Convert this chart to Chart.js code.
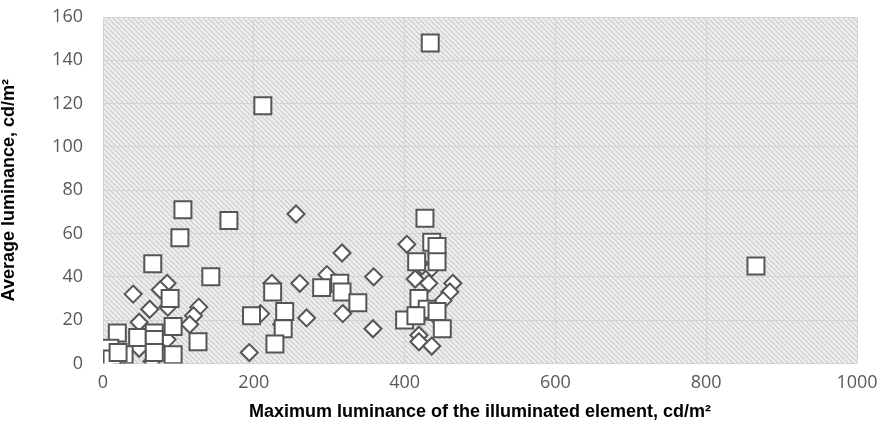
<!DOCTYPE html>
<html>
<head>
<meta charset="utf-8">
<script src="https://cdn.jsdelivr.net/npm/chart.js@4.4.1/dist/chart.umd.min.js"></script>
<style>
  html, body { margin: 0; padding: 0; background: #fff; }
  #wrap { width: 878px; height: 444px; }
</style>
</head>
<body>
<div id="wrap"><canvas id="scatterChart"></canvas></div>
<script>
// Data
const squareX = [434, 212, 866, 106, 102, 167, 66, 143, 427, 436, 443, 416, 443, 419, 400, 450, 430, 443, 415,
    225, 197, 241, 239, 228, 290, 314, 317, 338, 126, 19, 46, 68, 93, 89, 68, 93, 68, 3, 9, 2, 5, 28, 12, 20];
const squareY = [148, 119, 45, 71, 58, 66, 46, 40, 67, 56, 54, 47, 47, 30, 20, 16, 25, 24, 22,
    33, 22, 24, 16, 9, 35, 37, 33, 28, 10, 14, 12, 14, 17, 30, 11, 4, 5, 3, 7, 1, 0, 4, 2, 5];

const diamondX = [256, 317, 297, 261, 359, 224, 270, 318, 358, 237, 209, 194, 127, 120, 115, 85, 76, 40, 62, 86,
    48, 85, 48, 9, 25, 65, 403, 423, 436, 414, 432, 464, 460, 451, 415, 428, 438, 419, 419, 436];
const diamondY = [69, 51, 41, 37, 40, 37, 21, 23, 16, 18, 23, 5, 26, 22, 18, 37, 34, 32, 25, 26,
    19, 11, 7, 3, 3, 1, 55, 45, 44, 39, 37, 37, 33, 29, 24, 24, 23, 13, 10, 8];

const xTicks = [0, 200, 400, 600, 800, 1000];
const yTicks = [0, 20, 40, 60, 80, 100, 120, 140, 160];

const toPoints = (xs, ys) => xs.map((x, i) => ({ x: x, y: ys[i] }));

// Hatched plot background
function makeHatch() {
    const c = document.createElement('canvas');
    c.width = 5;
    c.height = 5;
    const g = c.getContext('2d');
    g.fillStyle = '#eeeeee';
    g.fillRect(0, 0, 5, 5);
    g.strokeStyle = '#cbcbcb';
    g.lineWidth = 1.2;
    for (const off of [-5, 0, 5]) {
        g.beginPath();
        g.moveTo(off, 0);
        g.lineTo(off + 5, 5);
        g.stroke();
    }
    return g.createPattern(c, 'repeat');
}

const hatchPlugin = {
    id: 'hatch',
    beforeDraw(chart) {
        const { ctx, chartArea } = chart;
        ctx.save();
        ctx.fillStyle = makeHatch();
        ctx.fillRect(chartArea.left, chartArea.top, chartArea.right - chartArea.left, chartArea.bottom - chartArea.top);
        ctx.restore();
    }
};

const markerColor = '#555555';
const tickFont = { family: '"Open Sans", sans-serif', size: 18 };
const titleFont = { family: '"Liberation Sans Narrow", "Liberation Sans", sans-serif', size: 18, weight: 'bold', lineHeight: 1.0 };

new Chart(document.getElementById('scatterChart'), {
    type: 'scatter',
    data: {
        datasets: [{
            label: 'Squares',
            data: toPoints(squareX, squareY),
            pointStyle: 'rect',
            pointRadius: 12,
            pointHoverRadius: 12,
            borderWidth: 2,
            borderColor: markerColor,
            backgroundColor: '#ffffff'
        }, {
            label: 'Diamonds',
            data: toPoints(diamondX, diamondY),
            pointStyle: 'rectRot',
            pointRadius: 8.5,
            pointHoverRadius: 8.5,
            borderWidth: 2,
            borderColor: markerColor,
            backgroundColor: '#ffffff'
        }]
    },
    options: {
        responsive: true,
        maintainAspectRatio: false,
        animation: false,
        layout: { padding: { top: 17, right: 21, bottom: 23, left: 0 } },
        plugins: {
            legend: { display: false },
            tooltip: { enabled: false }
        },
        scales: {
            x: {
                type: 'linear',
                min: 0,
                max: 1000,
                afterBuildTicks: axis => { axis.ticks = xTicks.map(v => ({ value: v })); },
                grid: { color: '#d4d4d4', lineWidth: 1, drawTicks: false },
                border: { display: false },
                ticks: { font: tickFont, color: '#595959', padding: 9, maxRotation: 0, callback: v => String(v) },
                title: {
                    display: true,
                    text: 'Maximum luminance of the illuminated element, cd/m²',
                    font: titleFont,
                    color: '#000',
                    padding: { top: 0, bottom: 0 }
                },
                afterFit: axis => { axis.paddingLeft = 0; axis.paddingRight = 0; }
            },
            y: {
                type: 'linear',
                min: 0,
                max: 160,
                afterBuildTicks: axis => { axis.ticks = yTicks.map(v => ({ value: v })); },
                grid: { color: '#d4d4d4', lineWidth: 1, drawTicks: false },
                border: { display: false },
                ticks: { font: tickFont, color: '#595959', padding: 20, callback: v => String(v) },
                title: {
                    display: true,
                    text: 'Average luminance, cd/m²',
                    font: titleFont,
                    color: '#000',
                    padding: { top: 0, bottom: 4 }
                },
                afterFit: axis => {
                    axis.width = 103;
                    axis.paddingTop = 0;
                    axis.paddingBottom = 0;
                }
            }
        }
    },
    plugins: [hatchPlugin]
});
</script>
</body>
</html>
